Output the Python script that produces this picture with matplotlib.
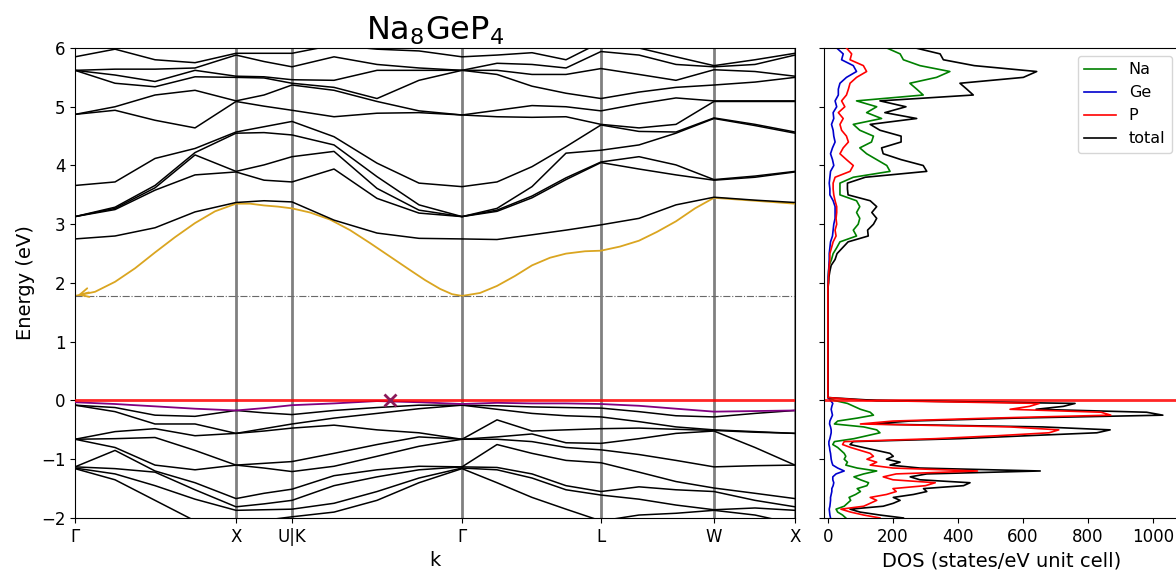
import numpy as np
import matplotlib
matplotlib.use('Agg')
import matplotlib.pyplot as plt

# high-symmetry path (distance along k path, arbitrary units)
k_ticks = [0.0, 1.61, 2.17, 3.87, 5.26, 6.39, 7.20]
k_labels = ['Γ', 'X', 'U|K', 'Γ', 'L', 'W', 'X']

# k sample points where band energies were read
k_points = [0.0, 0.40, 0.80, 1.20, 1.61, 1.89, 2.17, 2.59, 3.02, 3.44,
            3.87, 4.22, 4.57, 4.91, 5.26, 5.64, 6.01, 6.39, 6.80, 7.20]

# lowest conduction band, read more densely
cb1_k = [0.0, 0.20, 0.40, 0.60, 0.80, 1.00, 1.20, 1.40, 1.61, 1.75, 1.89, 2.03,
         2.17, 2.35, 2.55, 2.75, 2.95, 3.15, 3.35, 3.50, 3.65, 3.77, 3.87, 4.05,
         4.22, 4.40, 4.57, 4.75, 4.91, 5.10, 5.26, 5.45, 5.64, 5.82, 6.01, 6.20,
         6.39, 6.80, 7.20]
cb1_e = [1.78, 1.85, 2.02, 2.25, 2.52, 2.78, 3.02, 3.22, 3.35, 3.35, 3.32, 3.30,
         3.27, 3.20, 3.08, 2.90, 2.68, 2.45, 2.22, 2.05, 1.90, 1.81, 1.78, 1.83,
         1.95, 2.12, 2.30, 2.43, 2.50, 2.54, 2.55, 2.62, 2.72, 2.87, 3.05, 3.27,
         3.45, 3.40, 3.35]

# other conduction bands, one row per k point (eV)
cb_energies = [
    [2.75, 3.13, 3.13, 3.13, 3.66, 4.87, 4.87, 5.62, 5.62, 5.62, 5.85],
    [2.80, 3.25, 3.27, 3.29, 3.72, 4.94, 5.00, 5.40, 5.54, 5.64, 5.98],
    [2.94, 3.58, 3.62, 3.66, 4.12, 4.77, 5.20, 5.34, 5.43, 5.64, 5.80],
    [3.21, 3.84, 4.18, 4.22, 4.29, 4.64, 5.28, 5.51, 5.62, 5.66, 5.75],
    [3.37, 3.89, 3.90, 4.55, 4.57, 5.09, 5.10, 5.50, 5.52, 5.88, 5.91],
    [3.40, 3.75, 4.01, 4.56, 4.66, 5.01, 5.20, 5.49, 5.51, 5.77, 5.91],
    [3.38, 3.72, 4.15, 4.52, 4.75, 4.94, 5.37, 5.40, 5.46, 5.68, 5.91],
    [3.07, 3.94, 4.24, 4.35, 4.49, 4.83, 5.28, 5.33, 5.45, 5.85, 6.05],
    [2.85, 3.44, 3.61, 3.81, 4.04, 4.89, 5.09, 5.14, 5.62, 5.72, 5.98],
    [2.76, 3.19, 3.24, 3.33, 3.70, 4.90, 4.93, 5.45, 5.62, 5.66, 5.95],
    [2.75, 3.13, 3.13, 3.13, 3.64, 4.86, 4.86, 5.62, 5.62, 5.62, 5.85],
    [2.74, 3.22, 3.24, 3.27, 3.72, 4.83, 4.94, 5.55, 5.62, 5.74, 5.88],
    [2.82, 3.45, 3.48, 3.64, 3.98, 4.82, 5.02, 5.35, 5.55, 5.72, 5.92],
    [2.90, 3.76, 3.79, 4.21, 4.32, 4.83, 5.00, 5.23, 5.55, 5.66, 5.80],
    [2.99, 4.05, 4.06, 4.26, 4.69, 4.70, 4.93, 5.14, 5.65, 5.94, 6.10],
    [3.10, 3.94, 4.15, 4.35, 4.58, 4.64, 5.05, 5.25, 5.55, 5.88, 6.00],
    [3.33, 3.84, 4.01, 4.55, 4.57, 4.70, 5.15, 5.33, 5.45, 5.72, 5.85],
    [3.46, 3.75, 3.76, 4.80, 4.81, 5.09, 5.10, 5.37, 5.63, 5.68, 5.70],
    [3.41, 3.80, 3.82, 4.68, 4.70, 5.09, 5.10, 5.42, 5.60, 5.72, 5.80],
    [3.37, 3.89, 3.90, 4.55, 4.57, 5.09, 5.10, 5.50, 5.52, 5.88, 5.91],
]

# valence bands, one row per k point (eV), first column = highest VB
vb_energies = [
    [-0.03, -0.08, -0.08, -0.66, -0.66, -0.66, -1.13, -1.13, -1.15, -1.16],
    [-0.06, -0.12, -0.19, -0.53, -0.65, -0.80, -0.85, -1.16, -1.25, -1.35],
    [-0.10, -0.25, -0.40, -0.48, -0.63, -1.10, -1.20, -1.22, -1.45, -1.70],
    [-0.14, -0.27, -0.40, -0.60, -0.85, -1.18, -1.40, -1.52, -1.68, -2.05],
    [-0.17, -0.17, -0.56, -0.56, -1.10, -1.10, -1.67, -1.81, -1.87, -2.10],
    [-0.13, -0.21, -0.48, -0.52, -1.07, -1.15, -1.58, -1.76, -1.86, -2.04],
    [-0.08, -0.24, -0.40, -0.47, -1.04, -1.21, -1.51, -1.70, -1.85, -1.98],
    [-0.05, -0.17, -0.30, -0.42, -0.90, -1.12, -1.28, -1.45, -1.75, -1.90],
    [-0.01, -0.12, -0.22, -0.50, -0.75, -0.95, -1.18, -1.30, -1.55, -1.70],
    [-0.03, -0.08, -0.14, -0.55, -0.62, -0.78, -1.12, -1.18, -1.32, -1.40],
    [-0.06, -0.08, -0.08, -0.66, -0.66, -0.66, -1.13, -1.13, -1.15, -1.16],
    [-0.04, -0.09, -0.15, -0.33, -0.62, -0.66, -0.75, -1.14, -1.18, -1.40],
    [-0.05, -0.11, -0.22, -0.52, -0.57, -0.70, -0.90, -1.25, -1.32, -1.65],
    [-0.05, -0.12, -0.26, -0.50, -0.72, -0.80, -1.02, -1.45, -1.52, -1.85],
    [-0.06, -0.13, -0.28, -0.48, -0.73, -0.84, -1.06, -1.55, -1.61, -2.05],
    [-0.09, -0.19, -0.36, -0.47, -0.65, -0.92, -1.22, -1.47, -1.68, -1.95],
    [-0.14, -0.26, -0.45, -0.49, -0.56, -1.02, -1.38, -1.52, -1.78, -1.92],
    [-0.19, -0.28, -0.50, -0.51, -0.52, -1.13, -1.49, -1.55, -1.86, -1.87],
    [-0.18, -0.22, -0.53, -0.54, -0.80, -1.11, -1.58, -1.70, -1.83, -1.95],
    [-0.17, -0.17, -0.56, -0.56, -1.10, -1.10, -1.67, -1.81, -1.87, -2.10],
]

vbm_k = 3.15
vbm_e = 0.0

# DOS, conduction part: 6.0 eV down to 1.8 eV every 0.1 eV
e_cb = np.linspace(6.0, 1.8, 43)
na_cb = [181, 222, 232, 283, 375, 334, 252, 273, 293, 88, 150, 119, 165, 78, 98,
         140, 134, 98, 119, 150, 181, 191, 78, 37, 37, 37, 88, 98, 88, 98, 93, 78,
         88, 37, 27, 16, 11, 4, 2, 1, 1, 0, 0]
ge_cb = [27, 47, 42, 78, 88, 57, 37, 32, 32, 22, 27, 16, 18, 11, 16, 18, 22, 14,
         8, 14, 18, 8, 6, 4, 6, 6, 16, 22, 22, 22, 18, 16, 14, 8, 6, 4, 4, 3, 2, 1,
         1, 0, 0]
p_cb = [57, 73, 68, 109, 119, 88, 68, 63, 57, 42, 52, 32, 47, 37, 42, 57, 63, 47,
        37, 57, 78, 68, 22, 16, 16, 18, 22, 27, 27, 25, 27, 22, 25, 16, 11, 6, 6, 4,
        3, 2, 1, 0, 0]
tot_cb = [270, 345, 355, 450, 642, 601, 406, 427, 447, 160, 240, 175, 273, 130, 160,
          225, 225, 165, 170, 225, 293, 304, 115, 60, 60, 62, 130, 150, 135, 150, 140,
          122, 124, 62, 45, 28, 22, 10, 6, 3, 2, 0, 0]

# gap
e_gap = [1.75, 0.05]
dos_gap = [0, 0]

# DOS, valence part: 0 eV down to -2 eV every 0.05 eV
e_vb = np.linspace(0.0, -2.0, 41)
na_vb = [20, 60, 80, 100, 130, 140, 90, 30, 20, 110, 150, 160, 120, 80, 20, 15, 30,
         40, 50, 55, 50, 60, 55, 90, 150, 110, 80, 100, 125, 120, 90, 100, 85, 65,
         70, 60, 50, 25, 30, 45, 55]
ge_vb = [8, 15, 12, 10, 12, 14, 10, 6, 5, 8, 10, 10, 8, 6, 3, 3, 5, 6, 8, 9, 10, 12,
         15, 30, 50, 25, 15, 15, 18, 16, 12, 12, 10, 8, 8, 7, 6, 4, 5, 6, 8]
p_vb = [120, 650, 620, 560, 840, 870, 500, 200, 100, 560, 710, 680, 520, 330, 50, 45,
        70, 100, 130, 140, 120, 150, 130, 200, 460, 210, 170, 200, 330, 300, 200, 210,
        180, 130, 150, 130, 110, 40, 70, 110, 160]
tot_vb = [150, 760, 724, 640, 980, 1030, 580, 253, 130, 660, 868, 827, 612, 406, 78,
          68, 109, 150, 191, 201, 180, 222, 191, 283, 653, 304, 253, 283, 437, 417, 294,
          304, 263, 201, 222, 201, 170, 68, 99, 160, 232]

kp = np.array(k_points)
cb = np.array(cb_energies)
vb = np.array(vb_energies)

fig = plt.figure(figsize=(11.76, 5.77), dpi=100)
ax = fig.add_axes([0.0638, 0.1023, 0.6122, 0.8145])
ax2 = fig.add_axes([0.7007, 0.1023, 0.3025, 0.8145], sharey=ax)

for kt in k_ticks[1:]:
    ax.axvline(kt, color='grey', lw=2, zorder=1)

ax.plot(cb1_k, cb1_e, color='goldenrod', lw=1.3, zorder=2)
for i in range(cb.shape[1]):
    ax.plot(kp, cb[:, i], color='k', lw=1.1, zorder=3)
for i in range(1, vb.shape[1]):
    ax.plot(kp, vb[:, i], color='k', lw=1.1, zorder=3)
ax.plot(kp, vb[:, 0], color='purple', lw=1.3, zorder=4)

cbm_e = min(cb1_e)
ax.axhline(cbm_e, color='dimgray', ls='-.', lw=0.8, zorder=2)
ax.axhline(vbm_e, color='red', lw=2, alpha=0.85, zorder=5)
ax.annotate('', xy=(cb1_k[0], cbm_e), xytext=(12, 3), textcoords='offset points',
            arrowprops=dict(arrowstyle='->', color='goldenrod', lw=1.3,
                            mutation_scale=16))
ax.plot([vbm_k], [vbm_e], 'x', color='#8b1a5a', ms=8, mew=2, zorder=6)

ax.set_xlim(k_ticks[0], k_ticks[-1])
ax.set_ylim(-2, 6)
ax.set_xticks(k_ticks)
ax.set_xticklabels(k_labels)
ax.set_yticks(range(-2, 7))
ax.tick_params(labelsize=12)
ax.set_xlabel('k', fontsize=14)
ax.set_ylabel('Energy (eV)', fontsize=14)
ax.set_title('Na$_8$GeP$_4$', fontsize=23)

e_all = np.concatenate([e_cb, e_gap, e_vb])
ax2.plot(np.concatenate([na_cb, dos_gap, na_vb]), e_all, color='green', lw=1.2, label='Na')
ax2.plot(np.concatenate([ge_cb, dos_gap, ge_vb]), e_all, color='mediumblue', lw=1.2, label='Ge')
ax2.plot(np.concatenate([p_cb, dos_gap, p_vb]), e_all, color='red', lw=1.2, label='P', zorder=4)
ax2.plot(np.concatenate([tot_cb, dos_gap, tot_vb]), e_all, color='k', lw=1.2, label='total', zorder=3)
ax2.axhline(vbm_e, color='red', lw=2, alpha=0.85)

ax2.set_xlim(-12, 1082)
ax2.set_xticks([0, 200, 400, 600, 800, 1000])
ax2.tick_params(labelsize=12)
ax2.tick_params(axis='y', labelleft=False)
ax2.set_xlabel('DOS (states/eV unit cell)', fontsize=14)
ax2.legend(loc='upper right', fontsize=11.5)

fig.savefig('out.png', dpi=100)
